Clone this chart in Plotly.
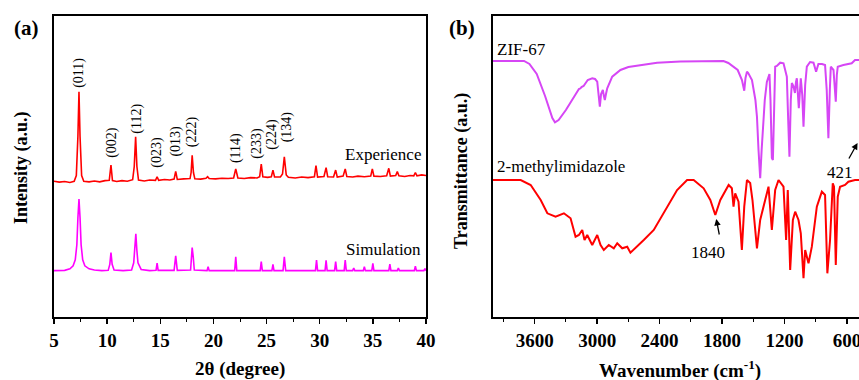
import plotly.graph_objects as go

W, H = 859, 380

# ---------------- Panel (a): XRD ----------------
exp_x = [5.0, 5.5, 6.0, 6.5, 6.9, 7.1, 7.25, 7.35, 7.45, 7.6, 7.8, 8.3, 8.8, 9.3, 9.8, 10.2, 10.36, 10.5,
         10.9, 11.4, 11.9, 12.4, 12.55, 12.68, 12.8, 12.95, 13.5, 14.0, 14.55, 14.7, 14.85, 15.4, 15.9,
         16.3, 16.45, 16.6, 17.2, 17.8, 17.9, 18.0, 18.12, 18.25, 18.8, 19.3, 19.45, 19.6, 20.2, 20.8,
         21.4, 21.9, 22.1, 22.3, 22.9, 23.5, 24.1, 24.35, 24.5, 24.65, 25.1, 25.45, 25.6, 25.75, 26.3,
         26.5, 26.67, 26.85, 27.05, 27.7, 28.3, 28.9, 29.5, 29.65, 29.8, 30.4, 30.6, 30.75, 31.3, 31.5,
         31.65, 32.2, 32.4, 32.55, 33.1, 33.6, 34.2, 34.8, 34.95, 35.1, 35.7, 36.3, 36.5, 36.65, 37.15,
         37.3, 37.45, 38.0, 38.5, 38.85, 39.0, 39.15, 39.6, 40.0]
exp_y = [45.1, 44.8, 45.0, 44.7, 45.1, 47.0, 60.0, 74.8, 60.0, 47.0, 45.1, 44.9, 45.2, 44.9, 45.3, 45.4, 50.5, 45.3,
         45.0, 45.3, 45.1, 45.6, 50.0, 59.9, 50.0, 45.5, 45.2, 45.5, 45.4, 46.6, 45.4, 45.7, 45.5,
         45.8, 48.4, 45.7, 45.9, 46.0, 48.0, 53.7, 48.0, 45.9, 45.8, 46.1, 46.6, 46.0, 45.9, 46.1,
         46.0, 46.2, 49.2, 46.2, 46.0, 46.3, 46.2, 46.6, 50.8, 46.6, 46.4, 46.6, 48.8, 46.5, 46.5,
         47.5, 53.2, 47.2, 46.4, 46.2, 46.5, 46.3, 46.6, 50.3, 46.5, 46.7, 49.6, 46.6, 46.5, 48.8,
         46.5, 46.8, 49.2, 46.7, 46.5, 46.8, 46.6, 46.8, 49.2, 46.8, 46.7, 46.9, 49.4, 46.8, 47.0,
         48.3, 46.9, 46.7, 47.0, 46.9, 48.0, 46.9, 47.2, 47.0]

sim_x = [5.0, 6.0, 6.5, 6.8, 7.0, 7.15, 7.25, 7.35, 7.45, 7.55, 7.7, 7.9, 8.3, 8.8, 9.5, 10.1, 10.25, 10.36,
         10.47, 10.65, 11.5, 12.3, 12.5, 12.6, 12.7, 12.8, 12.9, 13.2, 14.0, 14.6, 14.7, 14.8, 16.3, 16.45,
         16.6, 17.85, 17.95, 18.0, 18.1, 18.2, 19.4, 19.5, 19.6, 22.0, 22.1, 22.2, 24.4, 24.5, 24.6,
         25.5, 25.6, 25.7, 26.55, 26.67, 26.8, 29.6, 29.7, 29.8, 30.5, 30.6, 30.7, 31.4, 31.5, 31.6,
         32.3, 32.4, 32.5, 33.1, 33.2, 33.3, 34.1, 34.2, 34.3, 34.9, 35.0, 35.1, 36.5, 36.6, 36.7,
         37.3, 37.4, 37.5, 38.9, 39.0, 39.1, 39.8, 39.9, 40.0]
sim_y = [15.4, 15.5, 16.0, 17.0, 19.0, 24.0, 33.0, 39.2, 33.0, 24.0, 19.0, 17.0, 16.0, 15.6, 15.4, 15.5, 17.5, 21.4,
         17.5, 15.6, 15.4, 15.6, 18.0, 22.0, 27.6, 22.0, 18.0, 15.8, 15.4, 15.5, 17.9, 15.5, 15.5, 20.3,
         15.5, 15.6, 21.0, 23.1, 20.0, 15.6, 15.4, 16.7, 15.4, 15.4, 20.0, 15.4, 15.4, 18.4, 15.4,
         15.4, 17.5, 15.4, 15.4, 20.0, 15.4, 15.4, 18.9, 15.4, 15.4, 18.8, 15.4, 15.4, 18.4, 15.4,
         15.4, 18.9, 15.4, 15.4, 16.3, 15.4, 15.4, 16.7, 15.4, 15.4, 17.8, 15.4, 15.4, 17.6, 15.4,
         15.4, 16.3, 15.4, 15.4, 16.9, 15.4, 15.4, 16.1, 15.4]

hkl_labels = ["(011)", "(002)", "(112)", "(023)", "(013)", "(222)", "(114)", "(233)", "(224)", "(134)"]
hkl_x = [7.35, 10.43, 12.78, 14.66, 16.45, 18.01, 22.12, 24.07, 25.48, 26.95]
hkl_y = [81.1, 58.1, 65.8, 54.8, 58.5, 61.5, 56.1, 57.8, 60.8, 63.1]

xrd_ticks = [5, 10, 15, 20, 25, 30, 35, 40]

# ---------------- Panel (b): FTIR ----------------
zif_w = [4000, 3702, 3650, 3580, 3500, 3430, 3405, 3370, 3300, 3230, 3175, 3159, 3150, 3130, 3090, 3047, 3020,
         2999, 2985, 2974, 2962, 2945, 2935, 2926, 2915, 2903, 2855, 2776, 2700, 2584, 2424, 2200, 2000,
         1786, 1740, 1690, 1650, 1609, 1594, 1587, 1575, 1561, 1549, 1513, 1480, 1465, 1450, 1434, 1420,
         1408, 1390, 1370, 1345, 1335, 1322, 1312, 1300, 1290, 1274, 1242, 1210, 1178, 1165, 1153,
         1140, 1130, 1115, 1100, 1090, 1082, 1063, 1044, 1030, 1018, 1002, 986, 955, 922, 897, 875,
         840, 811, 795, 779, 765, 756, 730, 718, 708, 698, 689, 635, 555, 523, 485]
zif_t = [61, 61, 64, 74, 96, 118, 122.3, 120, 110, 98, 89, 88.3, 87, 86, 80, 78.3, 79,
         81.7, 95, 106.7, 94, 90, 96, 100, 94, 88.3, 76.7, 70, 67, 65, 62.7, 61.5, 61.5,
         61, 63, 66.7, 70, 80, 88, 90.7, 78, 71.7, 73, 80, 100, 116.7, 150, 178.3, 150,
         126.7, 100, 82, 74, 100, 158, 160, 100, 66.7, 66, 62.7, 63.3, 76.7, 120, 156.7,
         100, 83, 86, 93, 82, 78.3, 108.3, 78.3, 95, 126.7, 85, 66.7, 62, 62.7, 71.7, 64,
         64, 65, 90, 138.3, 90, 66.7, 70, 85, 101.7, 75, 66.7, 65, 63.3, 60, 60]

mim_w = [4000, 3734, 3638, 3542, 3478, 3399, 3319, 3255, 3207, 3175, 3143, 3121, 3095, 3047, 2999, 2967,
         2936, 2888, 2840, 2807, 2759, 2711, 2680, 2616, 2552, 2456, 2328, 2232, 2136, 2073, 1977, 1913,
         1865, 1817, 1737, 1706, 1690, 1674, 1642, 1610, 1587, 1561, 1530, 1508, 1465, 1434, 1386,
         1354, 1322, 1290, 1258, 1210, 1185, 1169, 1146, 1120, 1098, 1066, 1044, 1018, 1002, 986, 970,
         938, 890, 842, 811, 789, 763, 737, 725, 708, 689, 667, 619, 587, 523, 485]
mim_t = [180, 180, 185, 200, 213.3, 216.7, 213.3, 218.3, 236.7, 235, 230, 240, 235, 245, 235, 245,
         250, 245, 248.3, 243.3, 248.3, 246.7, 252.7, 246.7, 240, 230, 206.7, 190, 180, 180, 188.3, 200,
         215, 200, 185, 188.3, 206.7, 193.3, 201.7, 250, 206.7, 180, 183, 200, 248.3, 220, 200,
         186.7, 230, 190, 180, 186.7, 240, 190, 270, 220, 211.7, 220, 233.3, 278.3, 250, 256.7, 263.3,
         246.7, 206.7, 191.7, 195, 273.3, 240, 183.3, 186.7, 265, 196.7, 186.7, 185, 181.7, 180, 180]

ir_ticks = [3600, 3000, 2400, 1800, 1200, 600]

# ---------------- layout helpers ----------------
PT, PB = 16, 317           # plot top / bottom in px
AX_L, AX_R = 54, 426
BX_L = 493


def py2v(p):
    return (PB - p) / (PB - PT) * 100.0


def px(p):
    return p / W


def py(p):
    return 1 - p / H


zif_y = [py2v(v) for v in zif_t]
mim_y = [py2v(v) for v in mim_t]

SERIF = "Liberation Serif, Times New Roman, serif"

fig = go.Figure()
fig.add_trace(go.Scatter(x=exp_x, y=exp_y, mode="lines", line=dict(color="#FF0000", width=1.6),
                         xaxis="x", yaxis="y", showlegend=False, hoverinfo="skip"))
fig.add_trace(go.Scatter(x=sim_x, y=sim_y, mode="lines", line=dict(color="#FF00FF", width=1.6),
                         xaxis="x", yaxis="y", showlegend=False, hoverinfo="skip"))
fig.add_trace(go.Scatter(x=zif_w, y=zif_y, mode="lines", line=dict(color="#D646F5", width=2),
                         xaxis="x2", yaxis="y2", showlegend=False, hoverinfo="skip"))
fig.add_trace(go.Scatter(x=mim_w, y=mim_y, mode="lines", line=dict(color="#FF0000", width=2),
                         xaxis="x2", yaxis="y2", showlegend=False, hoverinfo="skip"))

tickfont = dict(family=SERIF, size=19, color="black", weight="bold")
common_x = dict(showline=True, linecolor="black", linewidth=2, mirror=True, ticks="outside",
                ticklen=5, tickwidth=1.5, tickcolor="black", showgrid=False, zeroline=False,
                tickfont=tickfont, automargin=False, ticklabeloverflow="allow")

fig.update_layout(
    template="none",
    width=W, height=H, margin=dict(l=0, r=0, t=0, b=0, pad=0),
    paper_bgcolor="white", plot_bgcolor="white", showlegend=False,
    font=dict(family=SERIF, color="black"),
    xaxis=dict(domain=[px(AX_L), px(AX_R)], range=[5, 40], tickvals=xrd_ticks,
               minor=dict(dtick=2.5, ticks="outside", ticklen=3, tickcolor="black", tickwidth=1),
               anchor="y", **common_x),
    yaxis=dict(domain=[py(PB), py(PT)], range=[0, 100], showticklabels=False, ticks="",
               showline=True, linecolor="black", linewidth=2, mirror=True, showgrid=False,
               zeroline=False, anchor="x", automargin=False),
    xaxis2=dict(domain=[px(BX_L), 1.0], range=[4000, 485], tickvals=ir_ticks,
                minor=dict(tick0=0, dtick=300, ticks="outside", ticklen=3, tickcolor="black", tickwidth=1),
                anchor="y2", **common_x),
    yaxis2=dict(domain=[py(PB), py(PT)], range=[0, 100], showticklabels=False, ticks="",
                showline=True, linecolor="black", linewidth=2, mirror=False, showgrid=False,
                zeroline=False, anchor="x2", automargin=False),
)

ann = []


def label(x, y, text, size, xref="paper", yref="paper", xanchor="center", angle=0):
    ann.append(dict(x=x, y=y, xref=xref, yref=yref, text=text, showarrow=False, textangle=angle,
                    xanchor=xanchor, yanchor="middle",
                    font=dict(family=SERIF, size=size, color="black")))


for t, xx, yy in zip(hkl_labels, hkl_x, hkl_y):
    label(xx, yy, t, 14, "x", "y", angle=-90)
label(39.72, py2v(154), "Experience", 17, "x", "y", xanchor="right")
label(39.72, py2v(249), "Simulation", 17, "x", "y", xanchor="right")
label(px(495), py(49), "ZIF-67", 17, xanchor="left")
label(px(495), py(167), "2-methylimidazole", 17, xanchor="left")
label(1932, py2v(252), "1840", 17, "x2", "y2")
label(px(855), py(172), "421", 17, xanchor="right")
ann.append(dict(x=1856, y=py2v(219), xref="x2", yref="y2", ax=1824, ay=py2v(236),
                axref="x2", ayref="y2", text="", showarrow=True, arrowhead=2, arrowsize=1,
                arrowwidth=1.3, arrowcolor="black"))
ann.append(dict(x=499, y=py2v(143), xref="x2", yref="y2", ax=590, ay=py2v(160),
                axref="x2", ayref="y2", text="", showarrow=True, arrowhead=2, arrowsize=1,
                arrowwidth=1.3, arrowcolor="black"))
label(px(26), py(28), "<b>(a)</b>", 21)
label(px(462), py(28), "<b>(b)</b>", 21)
label(px(240), py(369), "<b>2θ (degree)</b>", 19)
label(px(680), py(369), "<b>Wavenumber (cm<sup>-1</sup>)</b>", 19)
label(px(21), py(168), "<b>Intensity (a.u.)</b>", 18, angle=-90)
label(px(462), py(171), "<b>Transmittance (a.u.)</b>", 18, angle=-90)

fig.update_layout(annotations=ann)
fig.write_html("out.html", config={"displayModeBar": False, "staticPlot": True},
               post_script="document.body.style.margin='0';document.body.style.overflow='hidden';")
